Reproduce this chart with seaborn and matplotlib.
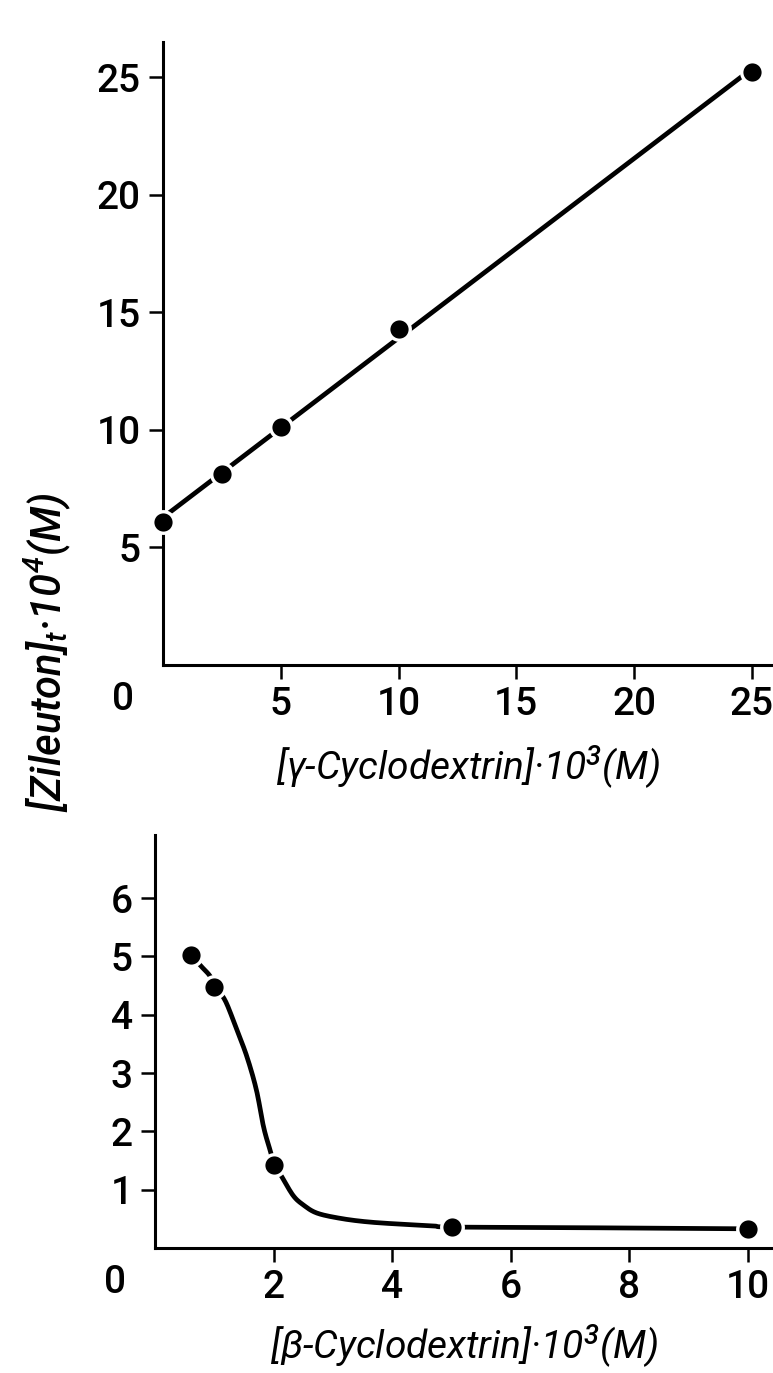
import numpy as np
import pandas as pd
import matplotlib
matplotlib.use("Agg")
import matplotlib.pyplot as plt
import seaborn as sns

# ---- data ----
gamma_cd = [0.0, 2.5, 5.0, 10.0, 25.0]          # [gamma-CD]*10^3 (M)
gamma_zil = [6.1, 8.1, 10.1, 14.3, 25.2]        # [Zileuton]t*10^4 (M)

beta_cd = [0.6, 1.0, 2.0, 5.0, 10.0]            # [beta-CD]*10^3 (M)
beta_zil = [5.03, 4.48, 1.42, 0.36, 0.33]

# hand-drawn guide curve through the beta points
beta_curve_x = [0.6, 0.76, 0.93, 1.0, 1.18, 1.38, 1.55, 1.71, 1.83, 1.94, 2.02,
                2.14, 2.33, 2.5, 2.73, 3.12, 3.57, 4.13, 4.69, 5.0, 7.0, 10.0]
beta_curve_y = [5.03, 4.85, 4.66, 4.48, 4.25, 3.74, 3.28, 2.71, 2.08, 1.68, 1.42,
                1.22, 0.90, 0.74, 0.60, 0.51, 0.45, 0.41, 0.38, 0.36, 0.35, 0.33]

top_xticks = [5, 10, 15, 20, 25]
top_yticks = [5, 10, 15, 20, 25]
bot_xticks = [2, 4, 6, 8, 10]
bot_yticks = [1, 2, 3, 4, 5, 6]

top_xlabel = "[γ-Cyclodextrin]·10$^{3}$(M)"
bot_xlabel = "[β-Cyclodextrin]·10$^{3}$(M)"
ylabel = "[Zileuton]$_{t}$·10$^{4}$(M)"


def smooth_trace(xs, ys, n=12):
    """Catmull-Rom rendering of a traced hand-drawn curve (display only)."""
    p = np.column_stack([xs, ys]).astype(float)
    p = np.vstack([p[0], p, p[-1]])
    out = []
    for i in range(1, len(p) - 2):
        p0, p1, p2, p3 = p[i - 1], p[i], p[i + 1], p[i + 2]
        t = np.linspace(0, 1, n, endpoint=False)[:, None]
        seg = 0.5 * ((2 * p1) + (-p0 + p2) * t + (2 * p0 - 5 * p1 + 4 * p2 - p3) * t ** 2
                     + (-p0 + 3 * p1 - 3 * p2 + p3) * t ** 3)
        out.append(seg)
    out.append(p[-2][None, :])
    out = np.vstack(out)
    return out[:, 0], out[:, 1]


# ---- style ----
sns.set_style("ticks")
plt.rcParams['font.family'] = ['Roboto', 'DejaVu Sans']
plt.rcParams['font.weight'] = 'medium'
plt.rcParams['text.color'] = 'black'
plt.rcParams['axes.labelcolor'] = 'black'
plt.rcParams['mathtext.fontset'] = 'custom'
plt.rcParams['mathtext.rm'] = 'Roboto:italic:medium'
plt.rcParams['mathtext.it'] = 'Roboto:italic:medium'
plt.rcParams['mathtext.default'] = 'it'

FS = 28
FS_LABEL = 28
LW_SPINE = 2.2
LW_LINE = 3.4

fig = plt.figure(figsize=(7.73, 13.73), dpi=100)
ax1 = fig.add_axes([0.2109, 0.5157, 0.7891, 0.4538])
ax2 = fig.add_axes([0.2005, 0.0910, 0.7995, 0.3008])

df_g = pd.DataFrame({"cd": gamma_cd, "zil": gamma_zil})
df_b = pd.DataFrame({"cd": beta_cd, "zil": beta_zil})
sx, sy = smooth_trace(beta_curve_x, beta_curve_y)
df_bc = pd.DataFrame({"cd": sx, "zil": sy})

MS = 15.5
MEW = 2.4

# top panel: least-squares line + points
sns.regplot(data=df_g, x="cd", y="zil", ax=ax1, scatter=False, ci=None,
            color="black", line_kws=dict(lw=LW_LINE, solid_capstyle="butt"))
sns.scatterplot(data=df_g, x="cd", y="zil", ax=ax1, color="black", s=MS**2,
                edgecolor="white", linewidth=MEW, zorder=5, clip_on=False)

# bottom panel: guide curve + points
sns.lineplot(data=df_bc, x="cd", y="zil", ax=ax2, color="black", lw=LW_LINE,
             sort=False, estimator=None)
sns.scatterplot(data=df_b, x="cd", y="zil", ax=ax2, color="black", s=MS**2,
                edgecolor="white", linewidth=MEW, zorder=5, clip_on=False)

ax1.set_xlim(0, 25.9)
ax1.set_ylim(0, 26.5)
ax2.set_xlim(0, 10.42)
ax2.set_ylim(0, 7.08)

for ax, xt, yt in [(ax1, top_xticks, top_yticks), (ax2, bot_xticks, bot_yticks)]:
    ax.set_xticks(xt)
    ax.set_yticks(yt)
    ax.set_xticklabels([str(v) for v in xt])
    ax.set_yticklabels([str(v) for v in yt])
    for s in ["top", "right"]:
        ax.spines[s].set_visible(False)
    for s in ["left", "bottom"]:
        ax.spines[s].set_linewidth(LW_SPINE)
        ax.spines[s].set_color("black")
    ax.tick_params(axis="both", direction="out", length=10, width=1.8,
                   color="black", labelsize=FS, labelcolor="black")
    ax.tick_params(axis="x", pad=5)
    ax.tick_params(axis="y", pad=6)
    ax.set_ylabel("")
    # origin label "0"
    ax.annotate("0", xy=(0, 0), xycoords="data", xytext=(-29, -25),
                textcoords="offset points", ha="center", va="center",
                fontsize=FS, color="black")

ax1.set_xlabel(top_xlabel, fontsize=FS_LABEL, style="italic", labelpad=15)
ax2.set_xlabel(bot_xlabel, fontsize=FS_LABEL, style="italic", labelpad=12)

fig.text(48 / 773, 1 - 652 / 1373, ylabel, rotation=90, ha="center", va="center",
         fontsize=FS_LABEL + 2, style="italic")

fig.savefig("out.png", dpi=100)
